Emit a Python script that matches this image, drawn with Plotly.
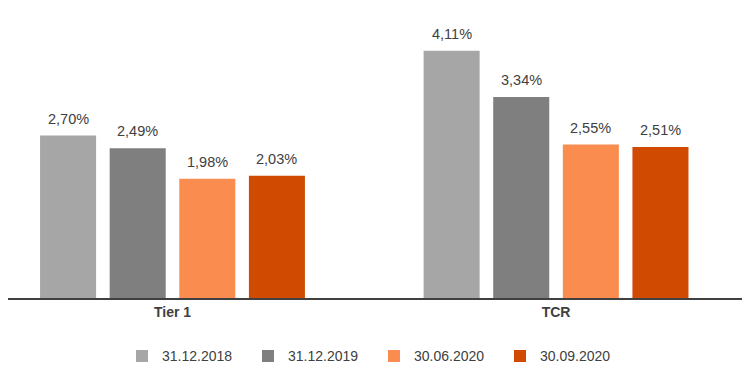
import plotly.graph_objects as go

categories = ["Tier 1", "TCR"]
series_names = ["31.12.2018", "31.12.2019", "30.06.2020", "30.09.2020"]
values = {
    "31.12.2018": [2.70, 4.11],
    "31.12.2019": [2.49, 3.34],
    "30.06.2020": [1.98, 2.55],
    "30.09.2020": [2.03, 2.51],
}
colors = ["#A6A6A6", "#7F7F7F", "#F98C4E", "#D04A02"]

BARGAP = 0.274
FONT = "Liberation Sans, Arial"

fig = go.Figure()
n = len(series_names)
slot = (1 - BARGAP) / n
annotations = []
for i, (name, col) in enumerate(zip(series_names, colors)):
    vals = values[name]
    fig.add_trace(go.Bar(
        x=categories, y=vals, name=name,
        marker=dict(color=col, line=dict(width=0)),
    ))
    for j, v in enumerate(vals):
        annotations.append(dict(
            x=j + (i - (n - 1) / 2) * slot, y=v, xref="x", yref="y",
            text=f"{v:.2f}".replace(".", ",") + "%", showarrow=False,
            yanchor="bottom", yshift=7,
            font=dict(family=FONT, size=14.5, color="#404040"),
        ))

fig.update_layout(
    width=750, height=370,
    margin=dict(l=0, r=13, t=12, b=80, autoexpand=False),
    paper_bgcolor="white", plot_bgcolor="white",
    barmode="group", bargap=BARGAP, bargroupgap=0.195,
    font=dict(family=FONT, size=14, color="#404040"),
    annotations=annotations,
    xaxis=dict(range=[-0.4289, 1.4927], showline=True, linecolor="#404040", linewidth=1.5,
               showgrid=False, ticks="", automargin=False,
               tickfont=dict(size=14, color="#404040", family=FONT),
               tickvals=[0, 1], ticktext=["<b>" + c + "</b>" for c in categories]),
    yaxis=dict(range=[0, 4.62], visible=False, showgrid=False, zeroline=False),
    legend=dict(orientation="h", x=0.4966, xanchor="center", y=-0.21, yanchor="middle",
                font=dict(size=14, color="#404040"), entrywidth=81, itemwidth=30,
                traceorder="normal"),
    showlegend=True,
)
fig.write_html("out.html")
